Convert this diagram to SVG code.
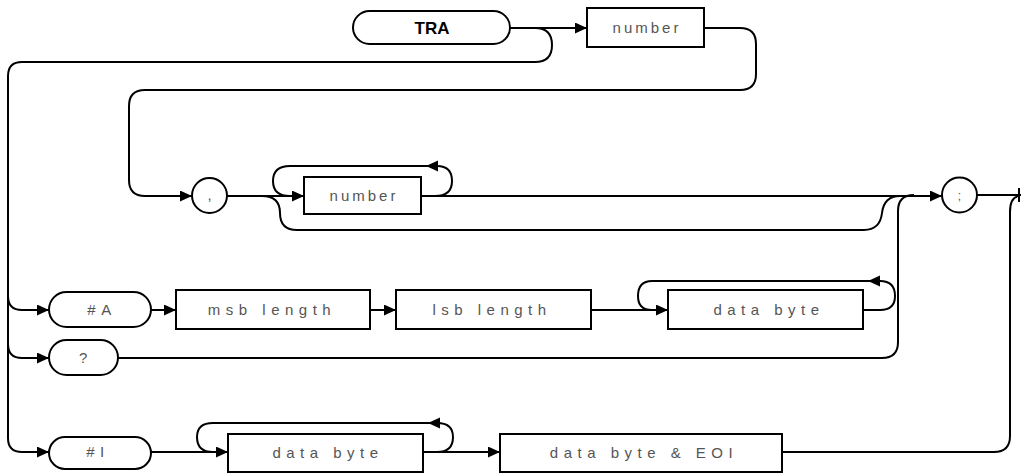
<svg xmlns="http://www.w3.org/2000/svg" width="1021" height="473" viewBox="0 0 1021 473">
<defs>
<style>
.n{fill:#fff;stroke:#000;stroke-width:2}
.c{fill:none;stroke:#000;stroke-width:2}
.t{font-family:"Liberation Sans",Arial,sans-serif;font-size:15px;fill:#555;letter-spacing:5.5px;text-anchor:middle}
.tn{font-family:"Liberation Sans",Arial,sans-serif;font-size:15px;fill:#555;letter-spacing:3px;text-anchor:middle}
.tb{font-family:"Liberation Sans",Arial,sans-serif;font-size:17px;font-weight:bold;fill:#000;text-anchor:middle}
.ah{fill:#000}
</style>
<marker id="arr" markerUnits="userSpaceOnUse" markerWidth="13" markerHeight="11" refX="12" refY="5.5" orient="auto" viewBox="0 0 13 11">
<path d="M0,0 L12,5.5 L0,11 z" fill="#000"/>
</marker>
</defs>
<g id="connectors">
<path class="c" d="M510,28 H587" marker-end="url(#arr)"/>
<path class="c" d="M704,28 H740 Q756,28 756,44 V74 Q756,90 740,90 H145 Q129,90 129,106 V180 Q129,196 145,196 H192" marker-end="url(#arr)"/>
<path class="c" d="M512,28 H535 Q552,28 552,45 Q552,62 535,62 H22 Q8,62 8,76 V438 Q8,452 22,452 H49" marker-end="url(#arr)"/>
<path class="c" d="M8,296 Q8,310 22,310 H49" marker-end="url(#arr)"/>
<path class="c" d="M8,344 Q8,358 22,358 H49" marker-end="url(#arr)"/>
<path class="c" d="M227,196 H304" marker-end="url(#arr)"/>
<path class="c" d="M435,196 Q452,196 452,181 Q452,166 437,166 H290 Q273,166 273,181 Q273,196 290,196"/>
<path class="ah" d="M426,166 L438,160.5 L438,171.5 z"/>
<path class="c" d="M262,196 Q280,196 280,213 Q280,230 297,230 H864 Q880,230 882,213 Q884,196 900,196"/>
<path class="c" d="M421,196 H942" marker-end="url(#arr)"/>
<path class="c" d="M151,310 H176" marker-end="url(#arr)"/>
<path class="c" d="M370,310 H396" marker-end="url(#arr)"/>
<path class="c" d="M591,310 H668" marker-end="url(#arr)"/>
<path class="c" d="M863,310 H880 Q895,310 895,296 Q895,281 880,281 H652 Q638,281 638,296 Q638,310 652,310"/>
<path class="ah" d="M868,281 L880,275.5 L880,286.5 z"/>
<path class="c" d="M118,358 H882 Q898,358 898,342 V211 Q898,195 914,195"/>
<path class="c" d="M977,195 H1021"/>
<path class="c" d="M1019,188 V202"/>
<path class="c" d="M782,452 H994 Q1010,452 1010,436 V212 Q1010,197 1019,196"/>
<path class="c" d="M151,452 H228" marker-end="url(#arr)"/>
<path class="c" d="M423,452 H437 Q453,452 453,437 Q453,423 437,423 H213 Q197,423 197,437 Q197,452 213,452"/>
<path class="ah" d="M428,423 L440,417.5 L440,428.5 z"/>
<path class="c" d="M423,452 H500" marker-end="url(#arr)"/>
</g>
<g id="n-tra"><rect class="n" x="353" y="11" width="157" height="33" rx="16.5"/><text class="tb" x="432" y="34">TRA</text></g>
<g id="n-number1"><rect class="n" x="587" y="8" width="117" height="39"/><text class="tn" x="647" y="33">number</text></g>
<g id="n-comma"><circle class="n" cx="209.5" cy="195.5" r="17.5"/><text class="tn" x="211" y="200">,</text></g>
<g id="n-number2"><rect class="n" x="304" y="177" width="117" height="37"/><text class="tn" x="364" y="201">number</text></g>
<g id="n-semicolon"><circle class="n" cx="959.5" cy="195" r="17.5"/><text class="tn" x="961" y="200" style="font-size:12px">;</text></g>
<g id="n-hashA"><rect class="n" x="49" y="292" width="102" height="35" rx="17.5"/><text class="t" x="102" y="315">#A</text></g>
<g id="n-msb"><rect class="n" x="176" y="290" width="194" height="39"/><text class="t" x="272" y="315">msb length</text></g>
<g id="n-lsb"><rect class="n" x="396" y="290" width="195" height="39"/><text class="t" x="492" y="315">lsb length</text></g>
<g id="n-databyteA"><rect class="n" x="668" y="290" width="195" height="39"/><text class="t" x="769" y="315">data byte</text></g>
<g id="n-query"><rect class="n" x="49" y="340" width="69" height="35" rx="17.5"/><text class="t" x="86" y="363">?</text></g>
<g id="n-hashI"><rect class="n" x="49" y="437" width="102" height="32" rx="16"/><text class="t" x="98" y="457">#I</text></g>
<g id="n-databyteI"><rect class="n" x="228" y="434" width="195" height="38"/><text class="t" x="328" y="458">data byte</text></g>
<g id="n-databyteEOI"><rect class="n" x="500" y="434" width="282" height="38"/><text class="t" x="644" y="458">data byte &amp; EOI</text></g>
</svg>
